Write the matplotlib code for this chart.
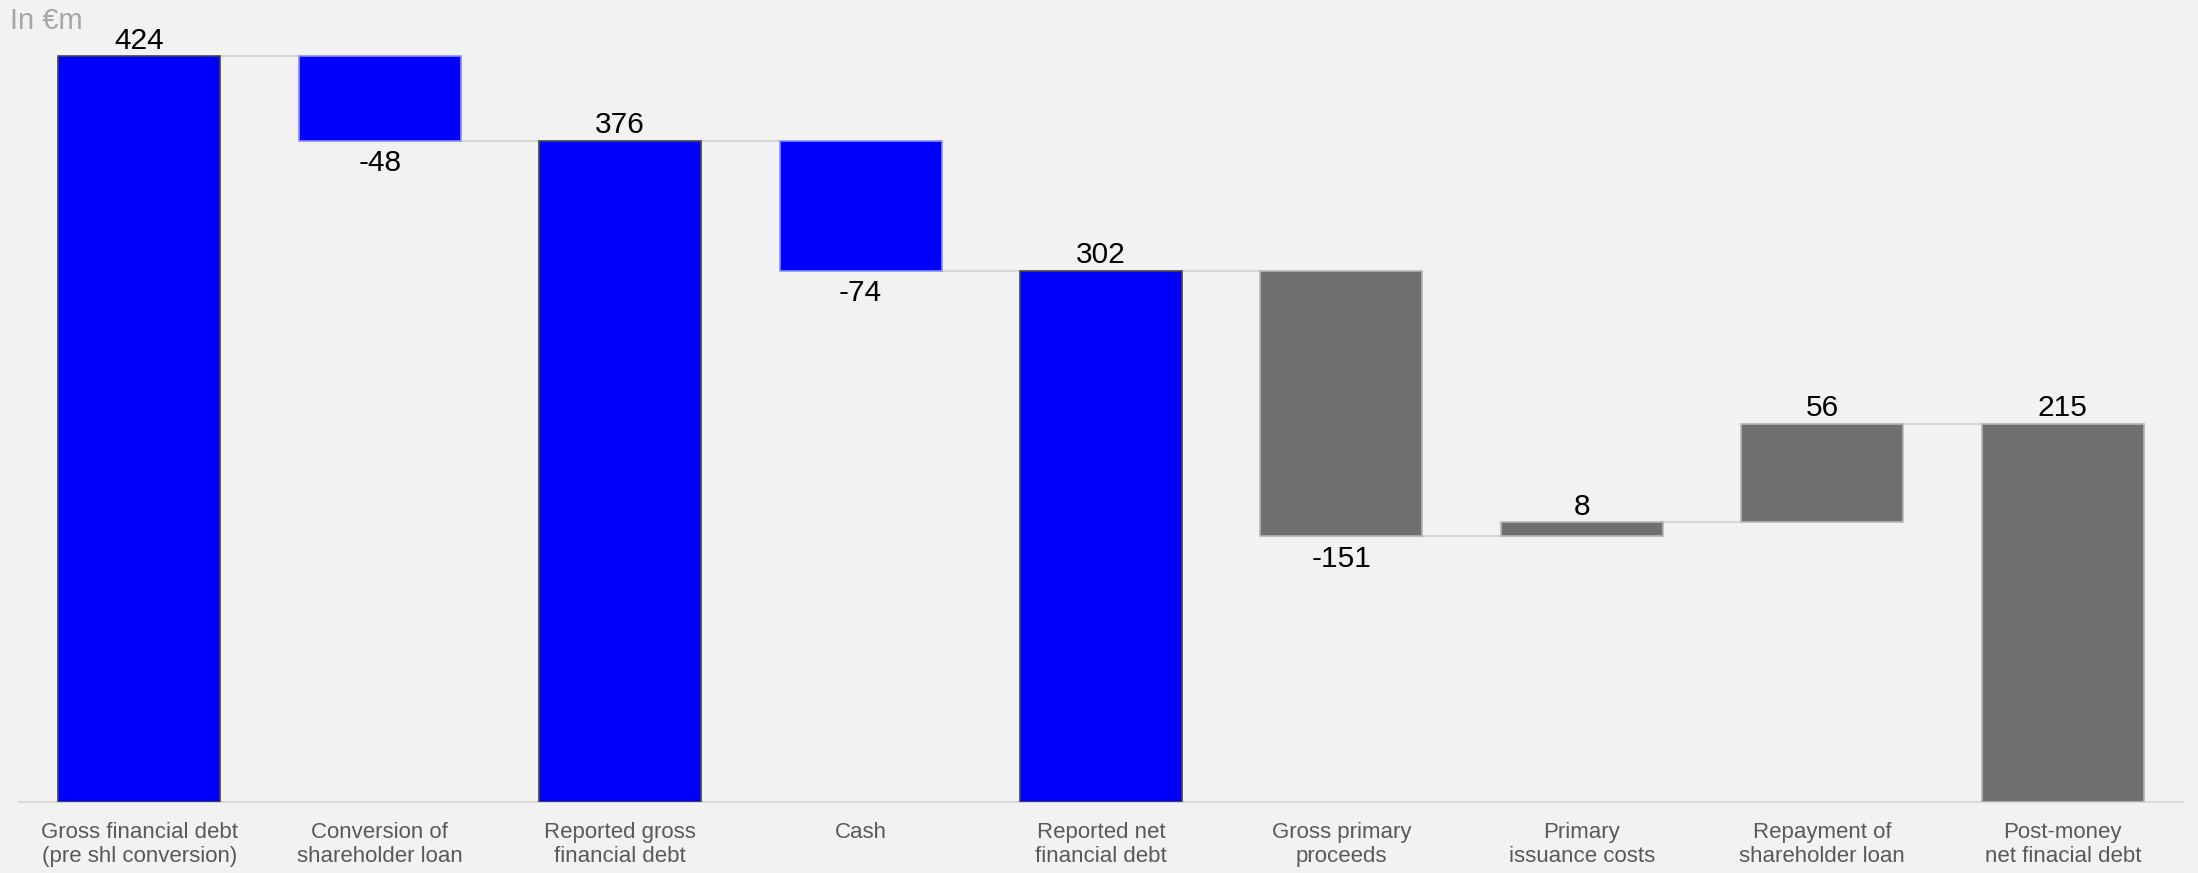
import numpy as np
import matplotlib
matplotlib.use("Agg")
import matplotlib.pyplot as plt

plt.rcParams['font.family'] = ['Liberation Sans', 'DejaVu Sans']

# Data
categories = [
    "Gross financial debt\n(pre shl conversion)",
    "Conversion of\nshareholder loan",
    "Reported gross\nfinancial debt",
    "Cash",
    "Reported net\nfinancial debt",
    "Gross primary\nproceeds",
    "Primary\nissuance costs",
    "Repayment of\nshareholder loan",
    "Post-money\nnet finacial debt",
]
values = [424, -48, 376, -74, 302, -151, 8, 56, 215]
is_total = [True, False, True, False, True, False, False, False, True]
groups = ["blue", "blue", "blue", "blue", "blue", "grey", "grey", "grey", "grey"]

# Style
bg = "#f2f2f2"
fill = {"blue": "#0000ff", "grey": "#707070"}
edge_total = {"blue": "#454545", "grey": "#b5b5b5"}
edge_step = {"blue": "#8c8cff", "grey": "#b5b5b5"}

# Running totals -> bar bottoms / tops
bottoms, heights = [], []
level = 0
for v, tot in zip(values, is_total):
    if tot:
        bottoms.append(0)
        heights.append(v)
        level = v
    else:
        if v >= 0:
            bottoms.append(level)
        else:
            bottoms.append(level + v)
        heights.append(abs(v))
        level = level + v

fig = plt.figure(figsize=(21.98, 8.73), dpi=100, facecolor=bg)
ax = fig.add_axes([19 / 2198, 71 / 873, 2164 / 2198, 802 / 873])
ax.set_facecolor(bg)

x = np.arange(len(categories))
width = 0.674
for i in x:
    g = groups[i]
    ec = edge_total[g] if is_total[i] else edge_step[g]
    ax.bar(i, heights[i], width, bottom=bottoms[i], color=fill[g],
           edgecolor=ec, linewidth=1.2, zorder=3)

# connector lines
level = 0
for i in range(len(values) - 1):
    level = values[i] if is_total[i] else level + values[i]
    ax.plot([i + width / 2, i + 1 - width / 2], [level, level],
            color="#d6d6d6", lw=1.6, zorder=2)

# value labels
for i, v in enumerate(values):
    top = bottoms[i] + heights[i]
    if v >= 0:
        ax.annotate(f"{v}", (i, top), xytext=(0, 1), textcoords="offset points",
                    ha="center", va="bottom", fontsize=21.5, color="black")
    else:
        ax.annotate(f"{v}", (i, bottoms[i]), xytext=(0, -6), textcoords="offset points",
                    ha="center", va="top", fontsize=21.5, color="black")

ax.set_xlim(-0.5, 8.5)
ax.set_ylim(0, 456)
ax.set_xticks(x)
ax.set_xticklabels(categories, fontsize=16, color="#595959", linespacing=1.2)
ax.tick_params(axis="x", length=0, pad=14.5)
ax.set_yticks([])
for s in ["top", "right", "left"]:
    ax.spines[s].set_visible(False)
ax.spines["bottom"].set_color("#d9d9d9")
ax.spines["bottom"].set_linewidth(1.5)

fig.text(10 / 2198, 1 - 7 / 873, "In €m", ha="left", va="top",
         fontsize=21, color="#a6a6a6")

fig.savefig("out.png", dpi=100, facecolor=bg)
